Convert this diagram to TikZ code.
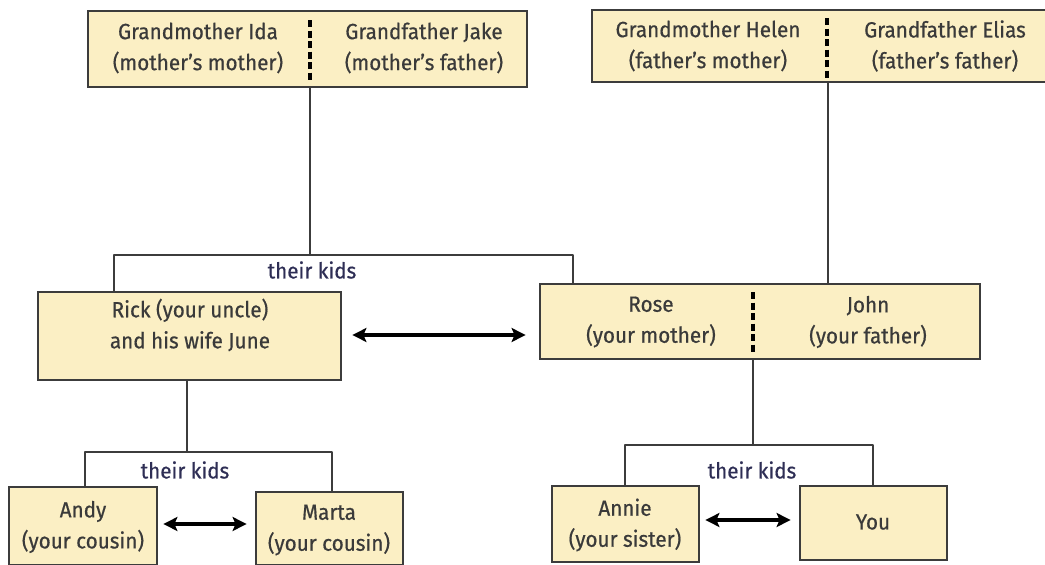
\documentclass[tikz,border=0pt]{standalone}
\usepackage{fontspec}
\setmainfont{Fira Sans}[FakeStretch=0.94, FakeBold=0.6]
\usetikzlibrary{arrows.meta}
\definecolor{boxfill}{HTML}{FBEFC4}
\definecolor{boxline}{HTML}{3C3C3C}
\definecolor{txt}{HTML}{3A3A3A}
\definecolor{kidtxt}{HTML}{2E2E55}
\tikzset{
  fambox/.style={draw=boxline, line width=2.8pt, fill=boxfill, rectangle, inner sep=0pt},
  lbl/.style={text=txt, align=center, font=\fontsize{22}{31}\selectfont, inner sep=0pt},
  kids/.style={text=kidtxt, font=\fontsize{22}{26}\selectfont, inner sep=0pt},
  link/.style={draw=boxline, line width=2.8pt},
  divider/.style={draw=black, line width=3.2pt, dash pattern=on 7pt off 3.5pt},
  sib/.style={draw=black, line width=3.2pt, {Stealth[length=14pt,width=14pt,inset=3pt]}-{Stealth[length=14pt,width=14pt,inset=3pt]}}
}
\begin{document}
\begin{tikzpicture}[x=1pt,y=-1pt]
\useasboundingbox (0,0) rectangle (1045,565);
% boxes
\node[fambox, minimum width=439pt, minimum height=76pt] (gp1) at (307.5,49) {};
\node[fambox, minimum width=470pt, minimum height=72pt] (gp2) at (827,46) {};
\node[fambox, minimum width=303pt, minimum height=88pt] (rick) at (189.5,336) {};
\node[fambox, minimum width=440pt, minimum height=75pt] (par) at (760,321.5) {};
\node[fambox, minimum width=148pt, minimum height=78pt] (andy) at (83,526) {};
\node[fambox, minimum width=147pt, minimum height=73pt] (marta) at (329.5,528.5) {};
\node[fambox, minimum width=147pt, minimum height=76pt] (annie) at (625.5,524) {};
\node[fambox, minimum width=147pt, minimum height=74pt] (you) at (873.5,523) {};
% dividers
\draw[divider] (310,20) -- (310,83);
\draw[divider] (827,18) -- (827,78);
\draw[divider] (753,292) -- (753,352);
% texts
\node[lbl] (tida) at (198,48) {Grandmother Ida\\(mother’s mother)};
\node[lbl] (tjake) at (424,48) {Grandfather Jake\\(mother’s father)};
\node[lbl] (thelen) at (708,46) {Grandmother Helen\\(father’s mother)};
\node[lbl] (telias) at (945,46) {Grandfather Elias\\(father’s father)};
\node[lbl] (trick) at (190,325) {Rick (your uncle)\\and his wife June};
\node[lbl] (trose) at (651,322) {Rose\\(your mother)};
\node[lbl] (tjohn) at (868,322) {John\\(your father)};
\node[lbl] (tandy) at (83,527) {Andy\\(your cousin)};
\node[lbl] (tmarta) at (329,530) {Marta\\(your cousin)};
\node[lbl] (tannie) at (625,525) {Annie\\(your sister)};
\node[lbl] (tyou) at (873,522) {You};
% their kids labels
\node[kids] (k1) at (312,270) {their kids};
\node[kids] (k2) at (185,470) {their kids};
\node[kids] (k3) at (752,470) {their kids};
% junction coordinates
\coordinate (j1) at (310,255);
\coordinate (j1l) at (114,255);
\coordinate (j1r) at (573,255);
\coordinate (j2) at (828,100);
\coordinate (j3) at (187,452);
\coordinate (j3l) at (85,452);
\coordinate (j3r) at (332,452);
\coordinate (j4) at (753,445);
\coordinate (j4l) at (625,445);
\coordinate (j4r) at (873,445);
% connectors
\draw[link] (j1 |- gp1.south) -- (j1);
\draw[link, line join=round] (j1l |- rick.north) -- (j1l) -- (j1r) -- (j1r |- par.north);
\draw[link] (j2 |- gp2.south) -- (j2 |- par.north);
\draw[link] (j3 |- rick.south) -- (j3);
\draw[link, line join=round] (j3l |- andy.north) -- (j3l) -- (j3r) -- (j3r |- marta.north);
\draw[link] (j4 |- par.south) -- (j4);
\draw[link, line join=round] (j4l |- annie.north) -- (j4l) -- (j4r) -- (j4r |- you.north);
% sibling arrows
\draw[sib, shorten <=10pt, shorten >=13pt] ([yshift=1pt]rick.east) -- ([yshift=1pt]rick.east -| par.west);
\draw[sib, shorten <=5pt, shorten >=8pt] ([yshift=2pt]andy.east) -- ([yshift=2pt]andy.east -| marta.west);
\draw[sib, shorten <=5pt, shorten >=8pt] ([yshift=4pt]annie.east) -- ([yshift=4pt]annie.east -| you.west);
\end{tikzpicture}
\end{document}
